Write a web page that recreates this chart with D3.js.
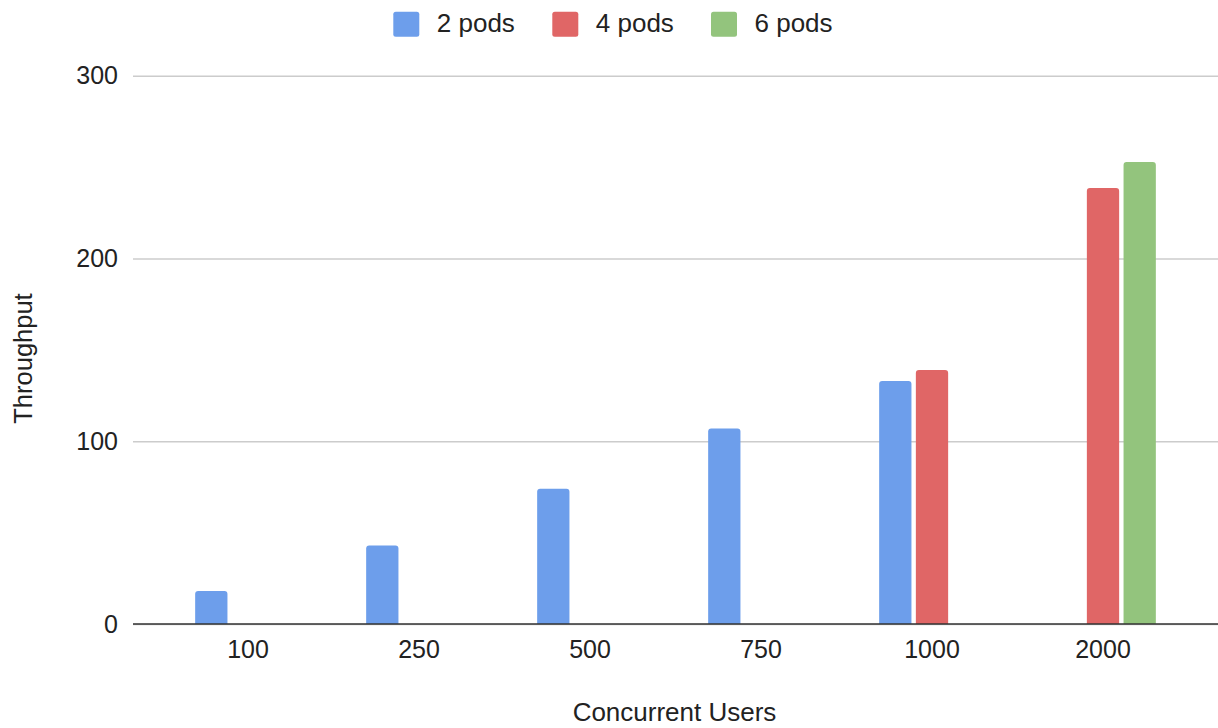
<!DOCTYPE html>
<html>
<head>
<meta charset="utf-8">
<script src="https://cdn.jsdelivr.net/npm/d3@7"></script>
<style>
  html, body { margin: 0; padding: 0; background: #fff; }
  svg { display: block; font-family: "Liberation Sans", Arial, sans-serif; }
</style>
</head>
<body>
<svg id="chart" width="1218" height="728"></svg>
<script>
// Throughput by concurrent users, grouped by pod count
const categories = ["100", "250", "500", "750", "1000", "2000"];
const seriesNames = ["2 pods", "4 pods", "6 pods"];
const pods2 = [18, 43, 74, 107, 133, null];
const pods4 = [null, null, null, null, 139, 238.5];
const pods6 = [null, null, null, null, null, 252.8];
const yTicks = [0, 100, 200, 300];
const colors = ["#6d9eeb", "#e06666", "#93c47d"];

const seriesValues = [pods2, pods4, pods6];
const rows = [];
categories.forEach((c, i) => {
  seriesNames.forEach((s, j) => {
    const v = seriesValues[j][i];
    if (v != null) rows.push({ category: c, series: s, value: v, color: colors[j] });
  });
});

const svg = d3.select("#chart");
const plotLeft = 133, plotRight = 1218, plotTop = 75.7, plotBottom = 624;

const x0 = d3.scaleBand().domain(categories).range([plotLeft, plotRight])
  .paddingInner(0).paddingOuter(0.1725);
const x1 = d3.scaleBand().domain(seriesNames).range([0, x0.bandwidth()])
  .paddingInner(0.12).paddingOuter(0.89);
const y = d3.scaleLinear().domain([0, 300]).range([plotBottom, plotTop]);

// Gridlines and y tick labels
const yAxis = d3.axisLeft(y).tickValues(yTicks).tickSize(-(plotRight - plotLeft)).tickPadding(15);
const gy = svg.append("g").attr("transform", `translate(${plotLeft},0)`).call(yAxis);
gy.select(".domain").remove();
gy.selectAll(".tick line").attr("stroke", "#cccccc").attr("stroke-width", 1.5);
gy.selectAll(".tick text").attr("fill", "#222").style("font-size", "25px")
  .attr("font-family", "Liberation Sans, Arial, sans-serif");

// Bars with slightly rounded top corners
const r = 3;
function barPath(d) {
  const bx = x0(d.category) + x1(d.series);
  const w = x1.bandwidth();
  const ty = y(d.value), by = y(0);
  return `M${bx},${by} L${bx},${ty + r} Q${bx},${ty} ${bx + r},${ty} ` +
         `L${bx + w - r},${ty} Q${bx + w},${ty} ${bx + w},${ty + r} L${bx + w},${by} Z`;
}
svg.append("g").selectAll("path").data(rows).join("path")
  .attr("d", barPath).attr("fill", d => d.color);

// Baseline
svg.append("line").attr("x1", plotLeft).attr("x2", plotRight)
  .attr("y1", y(0)).attr("y2", y(0)).attr("stroke", "#333").attr("stroke-width", 1.6);

// Category axis labels
const xAxis = d3.axisBottom(x0).tickSize(0).tickPadding(16);
const gx = svg.append("g").attr("transform", `translate(0,${plotBottom})`).call(xAxis);
gx.select(".domain").remove();
gx.selectAll(".tick text").attr("fill", "#222").style("font-size", "25px")
  .attr("font-family", "Liberation Sans, Arial, sans-serif");

// Axis titles
svg.append("text").attr("x", 674.5).attr("y", 721).attr("text-anchor", "middle")
  .attr("fill", "#222").style("font-size", "26px").text("Concurrent Users");
svg.append("text").attr("transform", "translate(31.5,358.5) rotate(-90)")
  .attr("text-anchor", "middle").attr("fill", "#222").style("font-size", "25.5px")
  .text("Throughput");

// Legend
const legendX = [393.3, 552.3, 711];
const lg = svg.append("g");
seriesNames.forEach((s, i) => {
  lg.append("rect").attr("x", legendX[i]).attr("y", 11.7).attr("width", 26).attr("height", 25)
    .attr("rx", 2.5).attr("fill", colors[i]);
  lg.append("text").attr("x", legendX[i] + 43.5).attr("y", 32.3)
    .attr("fill", "#222").style("font-size", "26px").text(s);
});
</script>
</body>
</html>
